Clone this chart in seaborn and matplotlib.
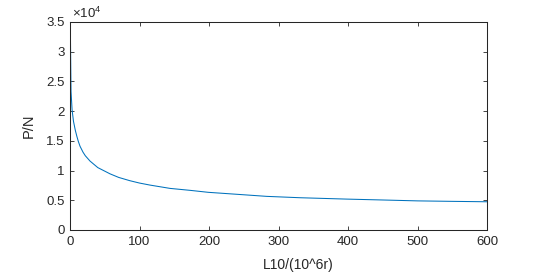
import matplotlib
matplotlib.use("Agg")
import matplotlib.pyplot as plt
import seaborn as sns
import pandas as pd
from matplotlib.ticker import FuncFormatter

# Bearing life L10 (10^6 revolutions) vs equivalent load P (N)
L10 = [0.4, 1.0, 1.5, 3.0, 5.0, 7.6, 10, 12, 14.4, 18.7, 22, 28.8, 40, 57.6, 70,
       86, 100, 115, 144, 173, 199, 235, 283, 331, 398, 450, 500, 550, 600]
P = [35000, 28400, 23300, 20200, 18300, 16800, 15700, 14900, 14100, 13100, 12500,
     11600, 10500, 9450, 8850, 8300, 7900, 7560, 7000, 6670, 6340, 6050, 5660,
     5430, 5200, 5050, 4900, 4820, 4750]

xticks = [0, 100, 200, 300, 400, 500, 600]
yticks = [0, 5000, 10000, 15000, 20000, 25000, 30000, 35000]

sns.set_theme(style="white")
plt.rcParams['font.family'] = ['Liberation Sans', 'DejaVu Sans']
plt.rcParams['mathtext.fontset'] = 'custom'
plt.rcParams['mathtext.rm'] = 'Liberation Sans'

df = pd.DataFrame({"L10": L10, "P": P})

W, H = 539, 275
fig = plt.figure(figsize=(W / 100, H / 100), dpi=100)
ax = fig.add_axes([70 / W, 1 - 230 / H, 417 / W, 208 / H])
sns.lineplot(data=df, x="L10", y="P", ax=ax, color="#0072BD", linewidth=0.75)

ax.set_xlim(0, 600)
ax.set_ylim(0, 35000)
ax.set_xticks(xticks)
ax.set_yticks(yticks)
ax.yaxis.set_major_formatter(FuncFormatter(lambda v, p: "%g" % (v / 1e4)))

dark = "#262626"
for s in ax.spines.values():
    s.set_color(dark)
    s.set_linewidth(0.75)
ax.tick_params(direction="in", length=3, width=0.6, colors=dark, labelsize=9.5,
               top=True, right=True, bottom=True, left=True,
               labeltop=False, labelright=False, pad=4)

ax.set_xlabel("")
ax.set_ylabel("P/N", fontsize=10.5, color=dark, labelpad=7)
fig.text(298 / W, 1 - 268.5 / H, "L10/(10^6r)", fontsize=10, color=dark,
         ha="center", va="baseline")
fig.text(72 / W, 1 - 18.5 / H, r"$\times10^{4}$", fontsize=9.5, color=dark,
         ha="left", va="baseline")

fig.savefig("out.png", dpi=100, facecolor="white")
